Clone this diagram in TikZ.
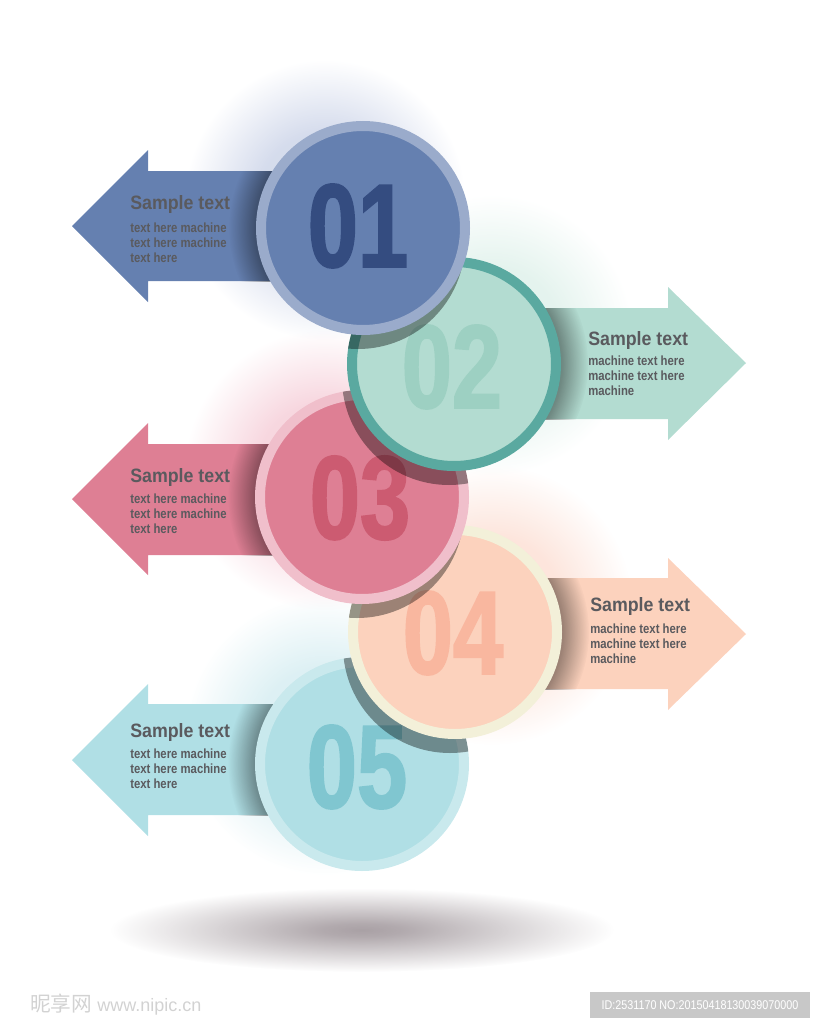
\documentclass[tikz,border=0pt]{standalone}
\usepackage{fontspec}
\setmainfont{Liberation Sans}
\newfontfamily\numfont[FakeStretch=0.76, FakeBold=1.6]{Liberation Sans}
\newfontfamily\headfont[FakeStretch=0.92]{Liberation Sans}
\newfontfamily\bodyfont[FakeStretch=0.85]{Liberation Sans}
\newfontfamily\cjkfont{Noto Sans CJK SC}
\usetikzlibrary{
  calc,
  fadings
}

\definecolor{blueFill}{HTML}{6580B0}
\definecolor{blueRing}{HTML}{9AABCB}
\definecolor{blueNum}{HTML}{344C80}
\definecolor{blueGlow}{HTML}{B9C4E0}
\definecolor{greenFill}{HTML}{B3DCD1}
\definecolor{greenRing}{HTML}{5AA9A0}
\definecolor{greenNum}{HTML}{9DD0C2}
\definecolor{greenGlow}{HTML}{D2EBE2}
\definecolor{pinkFill}{HTML}{DE7F94}
\definecolor{pinkRing}{HTML}{F0BFCB}
\definecolor{pinkNum}{HTML}{CC5B71}
\definecolor{pinkGlow}{HTML}{F2BCCA}
\definecolor{peachFill}{HTML}{FCD2BD}
\definecolor{peachRing}{HTML}{F3F0D9}
\definecolor{peachNum}{HTML}{F9B79F}
\definecolor{peachGlow}{HTML}{FBD3C4}
\definecolor{cyanFill}{HTML}{B0DFE5}
\definecolor{cyanRing}{HTML}{C9E9ED}
\definecolor{cyanNum}{HTML}{80C6D0}
\definecolor{cyanGlow}{HTML}{C6E6EC}
\definecolor{textGray}{HTML}{5A5A5E}
\definecolor{floorGray}{HTML}{9A9095}
\definecolor{markGray}{HTML}{D2D2D2}
\definecolor{idGray}{HTML}{C8C8C8}

% soft round fadings for glows and the floor shadow
\pgfdeclareradialshading{glowshade}{\pgfpointorigin}{%
  color(0bp)=(pgftransparent!0); color(12bp)=(pgftransparent!0);
  color(25bp)=(pgftransparent!100); color(50bp)=(pgftransparent!100)}
\pgfdeclarefading{soft glow}{\pgfuseshading{glowshade}}
\pgfdeclareradialshading{floorshade}{\pgfpointorigin}{%
  color(0bp)=(pgftransparent!0); color(4bp)=(pgftransparent!10);
  color(25bp)=(pgftransparent!100); color(50bp)=(pgftransparent!100)}
\pgfdeclarefading{floor fade}{\pgfuseshading{floorshade}}

\begin{document}
\begin{tikzpicture}[
  x=0.75pt, y=-0.75pt,
  ring/.style={line width=7.5pt},
  glow/.style={path fading=soft glow, opacity=.6},
  castshadow/.style={black, opacity=.38},
  rimshadow/.style={black, opacity=.38, path fading=circle with fuzzy edge 20 percent},
  number/.style={font=\numfont\bfseries\fontsize{89}{89}\selectfont, inner sep=0pt},
  title/.style={anchor=base west, inner sep=0pt, text=textGray,
    font=\headfont\bfseries\fontsize{14.5}{16}\selectfont},
  body/.style={anchor=north west, inner sep=0pt, align=left, text=textGray,
    font=\bodyfont\bfseries\fontsize{10}{11.25}\selectfont},
]
\useasboundingbox (0,0) rectangle (820,1024);

% Circle centres
\coordinate (c1) at (363,228);
\coordinate (c2) at (454,364);
\coordinate (c3) at (362,497);
\coordinate (c4) at (455,632);
\coordinate (c5) at (362,764);

% Glows behind the circles
\fill[blueGlow, glow] (325,200) circle (140);
\fill[greenGlow, glow] (492,335) circle (140);
\fill[pinkGlow, glow] (325,470) circle (140);
\fill[peachGlow, glow] (492,605) circle (140);
\fill[cyanGlow, glow] (325,735) circle (140);

% Floor shadow
\fill[floorGray, path fading=floor fade, opacity=.85] (362,930) ellipse (252 and 42);

% Step 05
\fill[cyanFill] (72,760) -- (148,684) -- (148,704) -- (362,704) -- (362,815)
  -- (148,815) -- (148,836) -- cycle;
\begin{scope}
  \clip (148,704) rectangle (362,815);
  \fill[rimshadow] (c5) circle (134);
\end{scope}
\filldraw[fill=cyanFill, draw=cyanRing, ring] (c5) circle (102);
\node[number, text=cyanNum] (n5) at (357,767) {05};
\node[title] (t5) at (130,737) {Sample text};
\node[body] (b5) at (130,749) {text here machine\\text here machine\\text here};

\begin{scope}
  \clip (c5) circle (107);
  \fill[castshadow] ($(c4)+(-5,14)$) circle (107);
\end{scope}

% Step 04
\fill[peachFill] (746,634) -- (668,558) -- (668,578) -- (455,578) -- (455,689)
  -- (668,689) -- (668,710) -- cycle;
\begin{scope}
  \clip (455,578) rectangle (668,689);
  \fill[rimshadow] (c4) circle (134);
\end{scope}
\filldraw[fill=peachFill, draw=peachRing, ring] (c4) circle (102);
\node[number, text=peachNum] (n4) at (453,633) {04};
\node[title] (t4) at (590,611) {Sample text};
\node[body] (b4) at (590,624) {machine text here\\machine text here\\machine};

\begin{scope}
  \clip (c4) circle (107);
  \fill[castshadow] ($(c3)+(-5,14)$) circle (107);
\end{scope}

% Step 03
\fill[pinkFill] (72,499) -- (148,423) -- (148,444) -- (362,444) -- (362,555)
  -- (148,555) -- (148,575) -- cycle;
\begin{scope}
  \clip (148,444) rectangle (362,555);
  \fill[rimshadow] (c3) circle (134);
\end{scope}
\filldraw[fill=pinkFill, draw=pinkRing, ring] (c3) circle (102);
\node[number, text=pinkNum] (n3) at (360,498) {03};
\node[title] (t3) at (130,482) {Sample text};
\node[body] (b3) at (130,494) {text here machine\\text here machine\\text here};

\begin{scope}
  \clip (c3) circle (107);
  \fill[castshadow] ($(c2)+(-5,14)$) circle (107);
\end{scope}

% Step 02
\fill[greenFill] (746,363) -- (668,287) -- (668,308) -- (454,308) -- (454,419)
  -- (668,419) -- (668,440) -- cycle;
\begin{scope}
  \clip (454,308) rectangle (668,419);
  \fill[rimshadow] (c2) circle (134);
\end{scope}
\filldraw[fill=greenFill, draw=greenRing, ring] (c2) circle (102);
\node[number, text=greenNum] (n2) at (452,367) {02};
\node[title] (t2) at (588,345) {Sample text};
\node[body] (b2) at (588,356) {machine text here\\machine text here\\machine};

\begin{scope}
  \clip (c2) circle (107);
  \fill[castshadow] ($(c1)+(-5,14)$) circle (107);
\end{scope}

% Step 01
\fill[blueFill] (72,226) -- (148,150) -- (148,171) -- (363,171) -- (363,281)
  -- (148,281) -- (148,302) -- cycle;
\begin{scope}
  \clip (148,171) rectangle (363,281);
  \fill[rimshadow] (c1) circle (134);
\end{scope}
\filldraw[fill=blueFill, draw=blueRing, ring] (c1) circle (102);
\node[number, text=blueNum] (n1) at (358,226) {01};
\node[title] (t1) at (130,209) {Sample text};
\node[body] (b1) at (130,223) {text here machine\\text here machine\\text here};

% Watermark strip
\node[anchor=west, inner sep=0pt, text=markGray, font=\fontsize{13.5}{14}\selectfont]
  (mark) at (30,1005) {{\cjkfont\fontsize{15.5}{16}\selectfont 昵享网} www.nipic.cn};
\node[fill=idGray, text=white, minimum width=165pt, minimum height=19.5pt, inner sep=0pt,
      font=\bodyfont\fontsize{9.5}{10}\selectfont] (imgid) at (700,1005)
  {ID:2531170 NO:20150418130039070000};

\end{tikzpicture}
\end{document}
